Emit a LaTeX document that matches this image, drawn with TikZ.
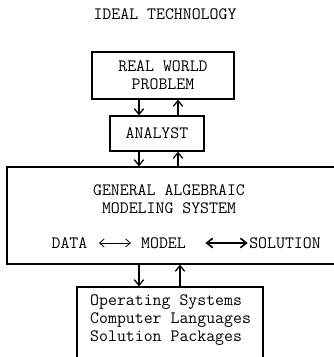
\documentclass[tikz,border=0pt]{standalone}
\usepackage{fontspec}
\usepackage{tikz}
\usetikzlibrary{arrows.meta, positioning, calc}

\begin{document}
\begin{tikzpicture}[
    x=0.3mm, y=-0.3mm,
    font=\ttfamily\fontsize{14.8}{15.3}\selectfont,
    block/.style={draw, line width=1.1pt, align=center, inner sep=0pt},
    label/.style={inner sep=0pt, align=center},
    arr/.style={-{Straight Barb[length=1.7mm, width=2.8mm]}, line width=1.1pt},
    thinlink/.style={{Straight Barb[length=1.4mm, width=2.4mm]}-{Straight Barb[length=1.4mm, width=2.4mm]}, line width=0.7pt},
    boldlink/.style={{Straight Barb[length=1.8mm, width=2.8mm]}-{Straight Barb[length=1.8mm, width=2.8mm]}, line width=1.4pt}
]
\useasboundingbox (0,0) rectangle (334,357);

\node[label] (title) at (165,14) {IDEAL TECHNOLOGY};

\node[block, minimum width=42.6mm, minimum height=14.1mm] (problem) at (163,75.5) {REAL WORLD\\PROBLEM};
\node[block, minimum width=28.2mm, minimum height=10.5mm] (analyst) at (157,133.5) {ANALYST};

% modeling system box runs off the right edge
\node[block, minimum width=101.4mm, minimum height=29.1mm] (gams) at (176,215.5) {};
\node[label] (gamsname) at (169,199.5) {GENERAL ALGEBRAIC\\MODELING SYSTEM};
\node[label] (data) at (69.5,243) {DATA};
\node[label] (model) at (163.5,243) {MODEL};
\node[label] (solution) at (285,243) {SOLUTION};

% software box runs off the bottom edge
\node[block, minimum width=55.8mm, minimum height=24.9mm] (software) at (170,328.5) {};
\node[label, align=left, anchor=west] (tools) at (90,320) {Operating Systems\\Computer Languages\\Solution Packages};

\draw[arr] (problem.south -| 139,0) -- (analyst.north -| 139,0);
\draw[arr] (analyst.north -| 178,0) -- (problem.south -| 178,0);
\draw[arr] (analyst.south -| 139,0) -- (gams.north -| 139,0);
\draw[arr] (gams.north -| 178,0) -- (analyst.south -| 178,0);
\draw[arr] (gams.south -| 139,0) -- (software.north -| 139,0);
\draw[arr] (software.north -| 180,0) -- (gams.south -| 180,0);

\draw[thinlink, shorten <=3.4mm, shorten >=3mm] (data) -- (model);
\draw[boldlink, shorten <=5.8mm, shorten >=0.4mm] (model) -- (solution);

\end{tikzpicture}
\end{document}
